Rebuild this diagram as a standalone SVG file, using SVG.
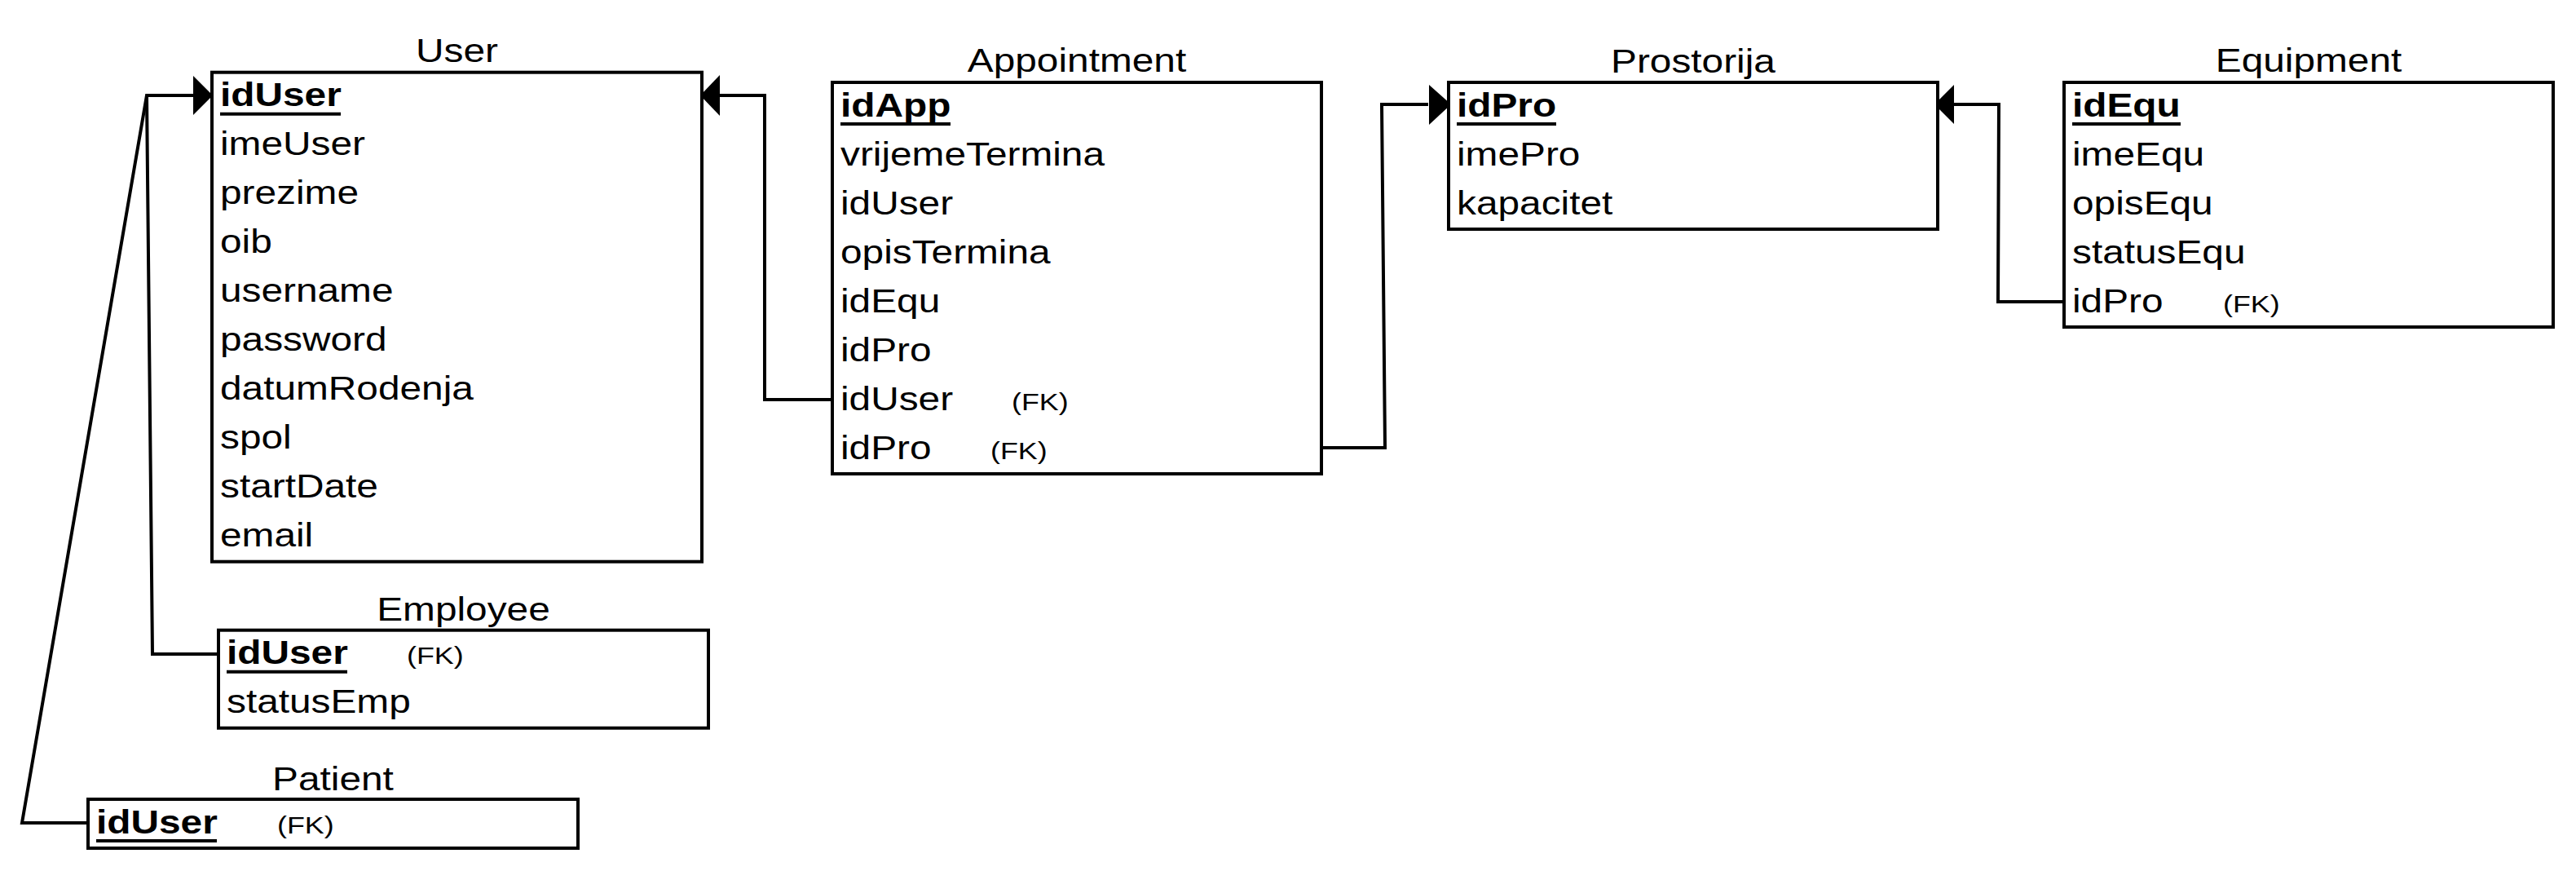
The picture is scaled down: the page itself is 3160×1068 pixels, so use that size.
<svg xmlns="http://www.w3.org/2000/svg" width="3160" height="1068" viewBox="0 0 3160 1068">
<style>
text{font-family:"Liberation Sans",Arial,Helvetica,sans-serif;font-size:40px;fill:#000}
.b{font-weight:bold}
.fk{font-size:30px}
.ttl{text-anchor:middle}
.box{fill:#fff;stroke:#000;stroke-width:4}
.ul{stroke:#000;stroke-width:4}
.edge{fill:none;stroke:#000;stroke-width:4;stroke-linejoin:miter}
.head{fill:#000;stroke:none}
</style>
<rect width="3160" height="1068" fill="#fff"/>

<g id="connectors">
  <!-- Patient -> User -->
  <polyline class="edge" points="108,1009 27,1009 180,117 238,117"/>
  <!-- Employee -> User -->
  <polyline class="edge" points="268,802 187,802 180,117"/>
  <polygon class="head" points="237,93 261,117 237,141"/>
  <!-- Appointment idUser -> User -->
  <polyline class="edge" points="1021,490 938,490 938,117 882,117"/>
  <polygon class="head" points="883,92 859,117 883,142"/>
  <!-- Appointment idPro -> Prostorija -->
  <polyline class="edge" points="1621,549 1699,549 1695,128 1752,128"/>
  <polygon class="head" points="1753,104 1780,128 1753,153"/>
  <!-- Equipment idPro -> Prostorija -->
  <polyline class="edge" points="2532,370 2451,370 2452,128 2396,128"/>
  <polygon class="head" points="2397,104 2373,128 2397,152"/>
</g>

<g id="user">
  <text class="ttl" transform="translate(560.5,76) scale(1.195 1)">User</text>
  <rect class="box" x="260" y="88.7" width="601" height="600"/>
  <text class="b" transform="translate(270,130.2) scale(1.195 1)">idUser</text>
  <line class="ul" x1="270" y1="139.7" x2="418" y2="139.7"/>
  <text transform="translate(270,190.2) scale(1.195 1)">imeUser</text>
  <text transform="translate(270,250.2) scale(1.195 1)">prezime</text>
  <text transform="translate(270,310.2) scale(1.195 1)">oib</text>
  <text transform="translate(270,370.2) scale(1.195 1)">username</text>
  <text transform="translate(270,430.2) scale(1.195 1)">password</text>
  <text transform="translate(270,490.2) scale(1.195 1)">datumRodenja</text>
  <text transform="translate(270,550.2) scale(1.195 1)">spol</text>
  <text transform="translate(270,610.2) scale(1.195 1)">startDate</text>
  <text transform="translate(270,670.2) scale(1.195 1)">email</text>
</g>

<g id="employee">
  <text class="ttl" transform="translate(568.5,760.5) scale(1.195 1)">Employee</text>
  <rect class="box" x="268" y="772.7" width="601" height="120"/>
  <text class="b" transform="translate(278,814.2) scale(1.195 1)">idUser</text>
  <line class="ul" x1="278" y1="823.7" x2="426" y2="823.7"/>
  <text class="fk" transform="translate(499,814.2) scale(1.195 1)">(FK)</text>
  <text transform="translate(278,874.2) scale(1.195 1)">statusEmp</text>
</g>

<g id="patient">
  <text class="ttl" transform="translate(408.5,968.5) scale(1.195 1)">Patient</text>
  <rect class="box" x="108" y="980" width="601" height="60"/>
  <text class="b" transform="translate(118,1021.5) scale(1.195 1)">idUser</text>
  <line class="ul" x1="118" y1="1031" x2="266" y2="1031"/>
  <text class="fk" transform="translate(340,1021.5) scale(1.195 1)">(FK)</text>
</g>

<g id="appointment">
  <text class="ttl" transform="translate(1321,88.3) scale(1.195 1)">Appointment</text>
  <rect class="box" x="1021" y="101" width="600" height="480"/>
  <text class="b" transform="translate(1031,142.5) scale(1.195 1)">idApp</text>
  <line class="ul" x1="1031" y1="152" x2="1166" y2="152"/>
  <text transform="translate(1031,202.5) scale(1.195 1)">vrijemeTermina</text>
  <text transform="translate(1031,262.5) scale(1.195 1)">idUser</text>
  <text transform="translate(1031,322.5) scale(1.195 1)">opisTermina</text>
  <text transform="translate(1031,382.5) scale(1.195 1)">idEqu</text>
  <text transform="translate(1031,442.5) scale(1.195 1)">idPro</text>
  <text transform="translate(1031,502.5) scale(1.195 1)">idUser</text>
  <text class="fk" transform="translate(1241,502.5) scale(1.195 1)">(FK)</text>
  <text transform="translate(1031,562.5) scale(1.195 1)">idPro</text>
  <text class="fk" transform="translate(1215,562.5) scale(1.195 1)">(FK)</text>
</g>

<g id="prostorija">
  <text class="ttl" transform="translate(2077,89) scale(1.195 1)">Prostorija</text>
  <rect class="box" x="1777" y="101" width="600" height="180"/>
  <text class="b" transform="translate(1787,142.5) scale(1.195 1)">idPro</text>
  <line class="ul" x1="1787" y1="152" x2="1909" y2="152"/>
  <text transform="translate(1787,202.5) scale(1.195 1)">imePro</text>
  <text transform="translate(1787,262.5) scale(1.195 1)">kapacitet</text>
</g>

<g id="equipment">
  <text class="ttl" transform="translate(2832,88.3) scale(1.195 1)">Equipment</text>
  <rect class="box" x="2532" y="101" width="600" height="300"/>
  <text class="b" transform="translate(2542,142.5) scale(1.195 1)">idEqu</text>
  <line class="ul" x1="2542" y1="152" x2="2675" y2="152"/>
  <text transform="translate(2542,202.5) scale(1.195 1)">imeEqu</text>
  <text transform="translate(2542,262.5) scale(1.195 1)">opisEqu</text>
  <text transform="translate(2542,322.5) scale(1.195 1)">statusEqu</text>
  <text transform="translate(2542,382.5) scale(1.195 1)">idPro</text>
  <text class="fk" transform="translate(2727,382.5) scale(1.195 1)">(FK)</text>
</g>
</svg>
